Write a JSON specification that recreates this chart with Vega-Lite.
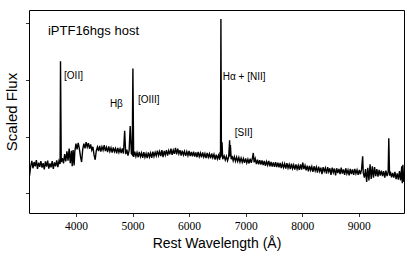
{"$schema":"https://vega.github.io/schema/vega-lite/v6.json","width":375,"height":203,"autosize":{"type":"none"},"padding":{"left":29,"top":10,"right":11,"bottom":47},"background":"white","config":{"view":{"stroke":"black","strokeWidth":1},"axis":{"grid":false,"domain":false,"tickColor":"black","tickSize":3.5,"tickWidth":0.8,"labelColor":"black","titleColor":"black","titleFontWeight":"normal"}},
"datasets":{"spec":[
{"w":3180,"f":0.62},{"w":3200,"f":0.95},{"w":3220,"f":1.14},{"w":3240,"f":0.88},{"w":3260,"f":1.1},{"w":3280,"f":0.95},{"w":3300,"f":1.17},{"w":3320,"f":0.86},{"w":3340,"f":1.08},{"w":3360,"f":0.93},{"w":3380,"f":1.13},{"w":3400,"f":0.9},{"w":3420,"f":1.06},{"w":3440,"f":0.84},{"w":3460,"f":1.12},{"w":3480,"f":0.94},{"w":3500,"f":1.15},{"w":3520,"f":0.87},{"w":3540,"f":1.05},{"w":3560,"f":0.91},{"w":3580,"f":1.13},{"w":3600,"f":0.86},{"w":3620,"f":1.09},{"w":3640,"f":0.95},{"w":3660,"f":1.16},{"w":3680,"f":0.92},{"w":3700,"f":1.14},{"w":3720,"f":1.03},{"w":3727,"f":4.66},{"w":3740,"f":1.1},{"w":3760,"f":1.24},{"w":3780,"f":1.05},{"w":3800,"f":1.38},{"w":3820,"f":1.12},{"w":3840,"f":1.48},{"w":3860,"f":1.15},{"w":3880,"f":1.58},{"w":3900,"f":1.06},{"w":3920,"f":1.5},{"w":3934,"f":0.95},{"w":3950,"f":1.52},{"w":3968,"f":0.98},{"w":3980,"f":1.47},{"w":4000,"f":1.75},{"w":4020,"f":1.55},{"w":4040,"f":1.78},{"w":4060,"f":1.57},{"w":4080,"f":1.3},{"w":4100,"f":1.1},{"w":4120,"f":1.55},{"w":4140,"f":1.75},{"w":4160,"f":1.58},{"w":4180,"f":1.8},{"w":4200,"f":1.63},{"w":4220,"f":1.77},{"w":4240,"f":1.57},{"w":4260,"f":1.72},{"w":4280,"f":1.52},{"w":4300,"f":1.64},{"w":4320,"f":1.35},{"w":4340,"f":1.18},{"w":4360,"f":1.5},{"w":4380,"f":1.63},{"w":4400,"f":1.49},{"w":4420,"f":1.67},{"w":4440,"f":1.47},{"w":4460,"f":1.64},{"w":4480,"f":1.52},{"w":4500,"f":1.7},{"w":4520,"f":1.49},{"w":4540,"f":1.62},{"w":4560,"f":1.45},{"w":4580,"f":1.65},{"w":4600,"f":1.47},{"w":4620,"f":1.6},{"w":4640,"f":1.43},{"w":4660,"f":1.62},{"w":4680,"f":1.47},{"w":4700,"f":1.58},{"w":4720,"f":1.41},{"w":4740,"f":1.6},{"w":4760,"f":1.44},{"w":4780,"f":1.57},{"w":4800,"f":1.42},{"w":4820,"f":1.58},{"w":4840,"f":1.4},{"w":4861,"f":2.2},{"w":4880,"f":1.38},{"w":4900,"f":1.54},{"w":4920,"f":1.33},{"w":4940,"f":1.5},{"w":4959,"f":2.37},{"w":4980,"f":1.4},{"w":4995,"f":1.36},{"w":5007,"f":4.4},{"w":5020,"f":1.28},{"w":5040,"f":1.47},{"w":5060,"f":1.3},{"w":5080,"f":1.44},{"w":5100,"f":1.27},{"w":5120,"f":1.46},{"w":5140,"f":1.29},{"w":5160,"f":1.42},{"w":5180,"f":1.25},{"w":5200,"f":1.45},{"w":5220,"f":1.27},{"w":5240,"f":1.4},{"w":5260,"f":1.24},{"w":5280,"f":1.44},{"w":5300,"f":1.28},{"w":5320,"f":1.42},{"w":5340,"f":1.25},{"w":5360,"f":1.47},{"w":5380,"f":1.3},{"w":5400,"f":1.44},{"w":5420,"f":1.32},{"w":5440,"f":1.5},{"w":5460,"f":1.33},{"w":5480,"f":1.47},{"w":5500,"f":1.31},{"w":5520,"f":1.52},{"w":5540,"f":1.27},{"w":5560,"f":1.49},{"w":5580,"f":1.35},{"w":5600,"f":1.52},{"w":5620,"f":1.33},{"w":5640,"f":1.5},{"w":5660,"f":1.37},{"w":5680,"f":1.57},{"w":5700,"f":1.35},{"w":5720,"f":1.52},{"w":5740,"f":1.39},{"w":5760,"f":1.6},{"w":5780,"f":1.37},{"w":5800,"f":1.57},{"w":5820,"f":1.39},{"w":5840,"f":1.52},{"w":5860,"f":1.33},{"w":5880,"f":1.5},{"w":5900,"f":1.35},{"w":5920,"f":1.48},{"w":5940,"f":1.32},{"w":5960,"f":1.47},{"w":5980,"f":1.33},{"w":6000,"f":1.49},{"w":6020,"f":1.31},{"w":6040,"f":1.46},{"w":6060,"f":1.3},{"w":6080,"f":1.47},{"w":6100,"f":1.29},{"w":6120,"f":1.44},{"w":6140,"f":1.27},{"w":6160,"f":1.46},{"w":6180,"f":1.29},{"w":6200,"f":1.42},{"w":6220,"f":1.27},{"w":6240,"f":1.44},{"w":6260,"f":1.28},{"w":6280,"f":1.4},{"w":6300,"f":1.24},{"w":6320,"f":1.42},{"w":6340,"f":1.27},{"w":6360,"f":1.39},{"w":6380,"f":1.23},{"w":6400,"f":1.4},{"w":6420,"f":1.25},{"w":6440,"f":1.37},{"w":6460,"f":1.19},{"w":6480,"f":1.36},{"w":6500,"f":1.21},{"w":6520,"f":1.34},{"w":6540,"f":1.18},{"w":6548,"f":1.45},{"w":6556,"f":1.25},{"w":6563,"f":6.15},{"w":6572,"f":1.3},{"w":6583,"f":1.8},{"w":6595,"f":1.2},{"w":6620,"f":1.32},{"w":6640,"f":1.17},{"w":6660,"f":1.3},{"w":6680,"f":1.15},{"w":6700,"f":1.28},{"w":6717,"f":1.87},{"w":6724,"f":1.3},{"w":6731,"f":1.7},{"w":6745,"f":1.2},{"w":6760,"f":1.32},{"w":6780,"f":1.15},{"w":6800,"f":1.29},{"w":6820,"f":1.13},{"w":6840,"f":1.27},{"w":6860,"f":1.12},{"w":6880,"f":1.26},{"w":6900,"f":1.1},{"w":6920,"f":1.24},{"w":6940,"f":1.09},{"w":6960,"f":1.22},{"w":6980,"f":1.07},{"w":7000,"f":1.23},{"w":7020,"f":1.07},{"w":7040,"f":1.2},{"w":7060,"f":1.05},{"w":7080,"f":1.22},{"w":7100,"f":1.07},{"w":7120,"f":1.24},{"w":7136,"f":1.42},{"w":7150,"f":1.09},{"w":7170,"f":1.22},{"w":7190,"f":1.03},{"w":7210,"f":1.18},{"w":7230,"f":1.02},{"w":7250,"f":1.17},{"w":7270,"f":1.01},{"w":7290,"f":1.16},{"w":7310,"f":0.99},{"w":7330,"f":1.14},{"w":7350,"f":0.97},{"w":7370,"f":1.12},{"w":7390,"f":0.99},{"w":7410,"f":1.14},{"w":7430,"f":0.95},{"w":7450,"f":1.1},{"w":7470,"f":0.94},{"w":7490,"f":1.09},{"w":7510,"f":0.93},{"w":7530,"f":1.1},{"w":7550,"f":0.92},{"w":7570,"f":1.08},{"w":7590,"f":0.91},{"w":7610,"f":1.07},{"w":7630,"f":0.89},{"w":7650,"f":1.05},{"w":7670,"f":0.91},{"w":7690,"f":1.04},{"w":7710,"f":0.87},{"w":7730,"f":1.06},{"w":7750,"f":0.89},{"w":7770,"f":1.02},{"w":7790,"f":0.85},{"w":7810,"f":1.04},{"w":7830,"f":0.87},{"w":7850,"f":1.0},{"w":7870,"f":0.83},{"w":7890,"f":1.02},{"w":7910,"f":0.85},{"w":7930,"f":0.98},{"w":7950,"f":0.82},{"w":7970,"f":1.02},{"w":7990,"f":0.83},{"w":8010,"f":1.08},{"w":8030,"f":0.85},{"w":8050,"f":0.98},{"w":8070,"f":0.81},{"w":8090,"f":0.97},{"w":8110,"f":0.77},{"w":8130,"f":0.96},{"w":8150,"f":0.81},{"w":8170,"f":0.94},{"w":8190,"f":0.75},{"w":8210,"f":0.95},{"w":8230,"f":0.79},{"w":8250,"f":0.92},{"w":8270,"f":0.73},{"w":8290,"f":0.94},{"w":8310,"f":0.77},{"w":8330,"f":0.9},{"w":8350,"f":0.67},{"w":8370,"f":0.92},{"w":8390,"f":0.77},{"w":8410,"f":0.89},{"w":8430,"f":0.69},{"w":8450,"f":0.92},{"w":8470,"f":0.75},{"w":8490,"f":0.88},{"w":8510,"f":0.65},{"w":8530,"f":0.9},{"w":8550,"f":0.73},{"w":8570,"f":0.87},{"w":8590,"f":0.63},{"w":8610,"f":0.88},{"w":8630,"f":0.71},{"w":8650,"f":0.86},{"w":8670,"f":0.67},{"w":8690,"f":0.9},{"w":8710,"f":0.69},{"w":8730,"f":0.84},{"w":8750,"f":0.65},{"w":8770,"f":0.88},{"w":8790,"f":0.69},{"w":8810,"f":0.82},{"w":8830,"f":0.63},{"w":8850,"f":0.86},{"w":8870,"f":0.67},{"w":8890,"f":0.84},{"w":8910,"f":0.65},{"w":8930,"f":0.86},{"w":8950,"f":0.69},{"w":8970,"f":0.82},{"w":8990,"f":0.65},{"w":9010,"f":0.82},{"w":9030,"f":0.67},{"w":9050,"f":0.84},{"w":9069,"f":1.3},{"w":9080,"f":0.72},{"w":9100,"f":0.55},{"w":9120,"f":0.85},{"w":9140,"f":0.4},{"w":9160,"f":0.9},{"w":9180,"f":0.45},{"w":9200,"f":1.02},{"w":9220,"f":0.5},{"w":9240,"f":0.95},{"w":9260,"f":0.55},{"w":9280,"f":0.92},{"w":9300,"f":0.6},{"w":9320,"f":0.85},{"w":9340,"f":0.58},{"w":9360,"f":0.82},{"w":9380,"f":0.62},{"w":9400,"f":0.8},{"w":9420,"f":0.6},{"w":9440,"f":0.78},{"w":9460,"f":0.55},{"w":9480,"f":0.8},{"w":9500,"f":0.6},{"w":9520,"f":0.75},{"w":9531,"f":1.94},{"w":9545,"f":0.62},{"w":9560,"f":0.76},{"w":9580,"f":0.56},{"w":9600,"f":0.72},{"w":9620,"f":0.55},{"w":9640,"f":0.75},{"w":9660,"f":0.5},{"w":9680,"f":0.7},{"w":9700,"f":0.48},{"w":9720,"f":0.78},{"w":9740,"f":0.45},{"w":9760,"f":0.95},{"w":9770,"f":0.35},{"w":9780,"f":1.0},{"w":9795,"f":0.4}
],
"labels":[
{"w":3790,"f":4.13,"t":"[OII]","s":10},
{"w":4600,"f":3.14,"t":"Hβ","s":10},
{"w":5096,"f":3.29,"t":"[OIII]","s":10},
{"w":6597,"f":4.1,"t":"Hα + [NII]","s":10},
{"w":6809,"f":2.12,"t":"[SII]","s":10},
{"w":3505,"f":5.72,"t":"iPTF16hgs host","s":13}
]},
"layer":[
{"data":{"name":"spec"},"mark":{"type":"line","color":"black","strokeWidth":1.4,"clip":true},
"encoding":{"x":{"field":"w","type":"quantitative","scale":{"domain":[3170,9800],"nice":false,"zero":false},"axis":{"values":[4000,5000,6000,7000,8000,9000],"format":"d","labelFont":"Liberation Serif","labelFontSize":11.5,"labelPadding":4,"title":"Rest Wavelength (Å)","titleFont":"Liberation Sans","titleFontSize":14,"titlePadding":4}},
"y":{"field":"f","type":"quantitative","scale":{"domain":[-0.7,6.47],"nice":false,"zero":false},"axis":{"values":[0,1,2,3,4,5,6],"labels":false,"title":"Scaled Flux","titleFont":"Liberation Sans","titleFontSize":15,"titlePadding":6}}}},
{"data":{"name":"labels"},"mark":{"type":"text","align":"left","baseline":"middle","font":"Liberation Sans","color":"black"},
"encoding":{"x":{"field":"w","type":"quantitative"},"y":{"field":"f","type":"quantitative"},"text":{"field":"t"},"size":{"field":"s","type":"quantitative","scale":null}}}
]}
